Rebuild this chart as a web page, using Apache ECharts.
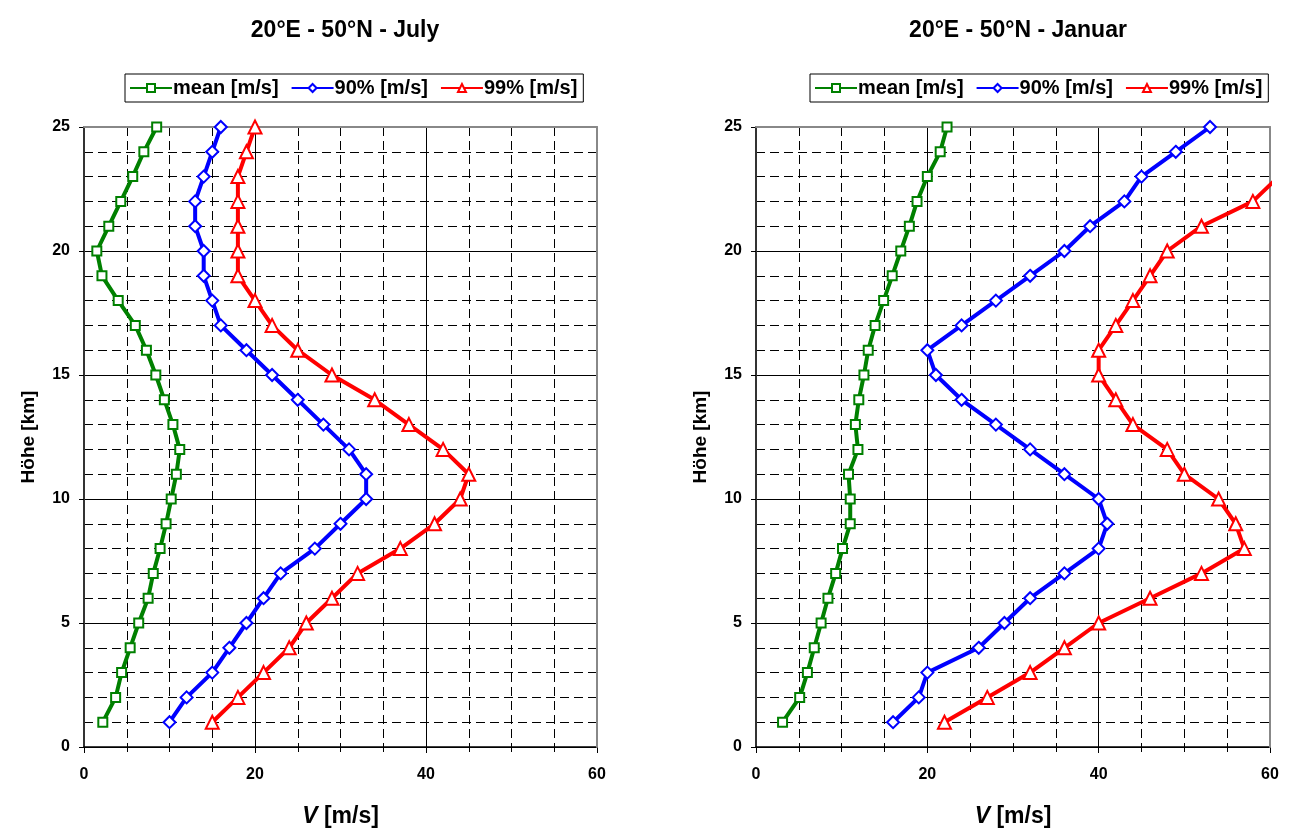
<!DOCTYPE html>
<html>
<head>
<meta charset="utf-8">
<script src="https://cdn.jsdelivr.net/npm/echarts@6/dist/echarts.min.js"></script>
<style>html,body{margin:0;padding:0;background:#fff}#c{width:1291px;height:833px}</style>
</head>
<body>
<div id="c"></div>
<script>
// heights in km
const heights = [1,2,3,4,5,6,7,8,9,10,11,12,13,14,15,16,17,18,19,20,21,22,23,24,25];
// July, 20°E 50°N
const julyMean = [2.2,3.7,4.4,5.4,6.4,7.5,8.1,8.9,9.6,10.2,10.8,11.2,10.4,9.4,8.4,7.3,6.0,4.0,2.1,1.5,2.9,4.3,5.7,7.0,8.5];
const july90   = [10,12,15,17,19,21,23,27,30,33,33,31,28,25,22,19,16,15,14,14,13,13,14,15,16];
const july99   = [15,18,21,24,26,29,32,37,41,44,45,42,38,34,29,25,22,20,18,18,18,18,18,19,20];
// January
const janMean = [3.1,5.1,6.0,6.8,7.6,8.4,9.3,10.1,11.0,11.0,10.8,11.9,11.6,12.0,12.6,13.1,13.9,14.9,15.9,16.9,17.9,18.8,20.0,21.5,22.3];
const jan90   = [16,19,20,26,29,32,36,40,41,40,36,32,28,24,21,20,24,28,32,36,39,43,45,49,53];
const jan99   = [22,27,32,36,40,46,52,57,56,54,50,48,44,42,40,40,42,44,46,48,52,58,61];

const titles = ['20°E - 50°N - July', '20°E - 50°N - Januar'];
const names = ['mean [m/s]', '90% [m/s]', '99% [m/s]'];

const FONT = "'Liberation Sans', Arial, sans-serif";
const pair = (vals) => vals.map((v, i) => [v, heights[i]]);

const grids = [
  {left: 84, top: 127, width: 513, height: 624},
  {left: 756, top: 127, width: 514, height: 624}
];

const styles = [
  {color: '#008000', symbol: 'rect', symbolSize: 9},
  {color: '#0000FF', symbol: 'diamond', symbolSize: 12},
  {color: '#FF0000', symbol: 'triangle', symbolSize: 13}
];

function mkSeries(name, vals, gi, st) {
  return {
    type: 'line', name: name, data: pair(vals),
    xAxisIndex: gi * 2, yAxisIndex: gi * 2,
    symbol: st.symbol, symbolSize: st.symbolSize, showSymbol: true,
    clip: true,
    lineStyle: {color: st.color, width: 4},
    itemStyle: {color: '#fff', borderColor: st.color, borderWidth: 2},
    color: st.color,
    z: 5, animation: false
  };
}

const xAxes = [], yAxes = [];
grids.forEach((g, gi) => {
  xAxes.push({
    type: 'value', gridIndex: gi, min: 0, max: 60, interval: 20,
    name: '{i|V} [m/s]', nameLocation: 'middle', nameGap: 58,
    nameTextStyle: {fontFamily: FONT, fontWeight: 'bold', fontSize: 23, color: '#000',
      rich: {i: {fontStyle: 'italic', fontWeight: 'bold', fontSize: 23, fontFamily: FONT}}},
    axisLine: {show: true, onZero: false, lineStyle: {color: '#000', width: 1.5}},
    axisTick: {show: true, length: 6, lineStyle: {color: '#000'}},
    minorTick: {show: true, splitNumber: 4, length: 5, lineStyle: {color: '#000'}},
    axisLabel: {fontFamily: FONT, fontWeight: 'bold', fontSize: 16, color: '#000', margin: 20},
    splitLine: {show: true, lineStyle: {color: '#000', width: 1}},
    minorSplitLine: {show: true, lineStyle: {color: '#000', width: 1, type: [9, 5]}}
  });
  xAxes.push({
    type: 'value', gridIndex: gi, min: 0, max: 60, position: 'top', z: 4,
    axisLine: {show: true, onZero: false, lineStyle: {color: '#888', width: 2}},
    axisTick: {show: false}, axisLabel: {show: false}, splitLine: {show: false}
  });
  yAxes.push({
    type: 'value', gridIndex: gi, min: 0, max: 25, interval: 5,
    name: 'Höhe [km]', nameLocation: 'middle', nameGap: 46, nameRotate: 90,
    nameTextStyle: {fontFamily: FONT, fontWeight: 'bold', fontSize: 19, color: '#000'},
    axisLine: {show: true, onZero: false, lineStyle: {color: '#333', width: 2}},
    axisTick: {show: true, length: 5, lineStyle: {color: '#000'}},
    minorTick: {show: false, splitNumber: 5},
    axisLabel: {fontFamily: FONT, fontWeight: 'bold', fontSize: 16, color: '#000', margin: 14},
    splitLine: {show: true, lineStyle: {color: '#000', width: 1}},
    minorSplitLine: {show: true, lineStyle: {color: '#000', width: 1, type: [9, 5]}}
  });
  yAxes.push({
    type: 'value', gridIndex: gi, min: 0, max: 25, position: 'right', z: 4,
    axisLine: {show: true, onZero: false, lineStyle: {color: '#888', width: 2}},
    axisTick: {show: false}, axisLabel: {show: false}, splitLine: {show: false}
  });
});

const series = [
  mkSeries(names[0], julyMean, 0, styles[0]),
  mkSeries(names[1], july90, 0, styles[1]),
  mkSeries(names[2], july99, 0, styles[2]),
  mkSeries(names[0], janMean, 1, styles[0]),
  mkSeries(names[1], jan90, 1, styles[1]),
  mkSeries(names[2], jan99, 1, styles[2])
];

const legendBase = {
  orient: 'horizontal', top: 74, itemGap: 12, itemWidth: 42, itemHeight: 10,
  padding: [4, 6, 4, 4], borderColor: '#000', borderWidth: 1,
  textStyle: {fontFamily: FONT, fontWeight: 'bold', fontSize: 20, color: '#000', padding: [0, 0, 0, -4]},
  data: names, selectedMode: false
};

const chart = echarts.init(document.getElementById('c'), null, {renderer: 'canvas'});
chart.setOption({
  backgroundColor: '#fff',
  animation: false,
  title: [
    {text: titles[0], left: 340, top: 14, textAlign: 'center',
     textStyle: {fontFamily: FONT, fontWeight: 'bold', fontSize: 23, color: '#000'}},
    {text: titles[1], left: 1013, top: 14, textAlign: 'center',
     textStyle: {fontFamily: FONT, fontWeight: 'bold', fontSize: 23, color: '#000'}}
  ],
  legend: [
    Object.assign({}, legendBase, {left: 125}),
    Object.assign({}, legendBase, {left: 810})
  ],
  grid: grids.map(g => Object.assign({show: false}, g)),
  xAxis: xAxes,
  yAxis: yAxes,
  series: series
});
</script>
</body>
</html>
